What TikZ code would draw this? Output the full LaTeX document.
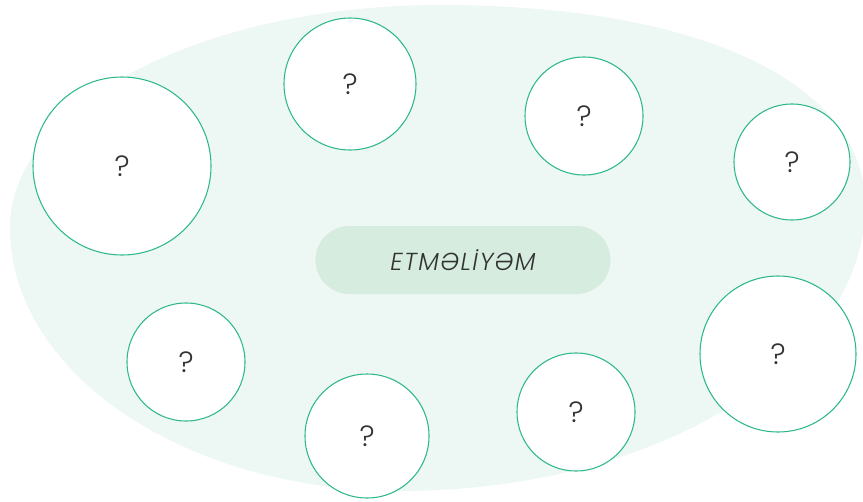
\documentclass[tikz,border=0pt]{standalone}
\usepackage{fontspec}
\setmainfont{Poppins}[UprightFont=* Light, ItalicFont=* Light Italic]
\definecolor{qgreen}{HTML}{2DB88A}
\definecolor{blobbg}{HTML}{EDF7F4}
\definecolor{pillbg}{HTML}{D5ECDF}
\definecolor{qtext}{HTML}{333333}
\begin{document}
\begin{tikzpicture}[x=0.03cm, y=-0.03cm,
  every node/.style={text=qtext},
  qcircle/.style={circle, draw=qgreen, line width=0.9pt, fill=white, inner sep=0pt, font=\fontsize{25}{30}\selectfont}]
  \useasboundingbox (0,0) rectangle (863,502);
  % Background blob
  \fill[blobbg] (10,228) .. controls (10,105) and (203,5) .. (440,5)
    .. controls (705,5) and (865,85) .. (865,205)
    .. controls (865,363) and (657,491) .. (400,491)
    .. controls (185,491) and (10,373) .. cycle;
  % Centre
  \node[rectangle, rounded corners=1.02cm, fill=pillbg, minimum width=8.85cm, minimum height=2.04cm,
    font=\fontsize{21}{25}\selectfont\addfontfeatures{LetterSpace=6}\itshape] (etm) at (463,260) {ETMƏLİYƏM};
  % Question circles
  \node[qcircle, minimum size=5.34cm] (q1) at (122,166) {?};
  \node[qcircle, minimum size=3.96cm] (q2) at (350,84) {?};
  \node[qcircle, minimum size=3.54cm] (q3) at (584,116) {?};
  \node[qcircle, minimum size=3.48cm] (q4) at (792,162) {?};
  \node[qcircle, minimum size=3.54cm] (q5) at (186,362) {?};
  \node[qcircle, minimum size=3.72cm] (q6) at (367,436) {?};
  \node[qcircle, minimum size=3.54cm] (q7) at (576,412) {?};
  \node[qcircle, minimum size=4.68cm] (q8) at (778,354) {?};
\end{tikzpicture}
\end{document}
